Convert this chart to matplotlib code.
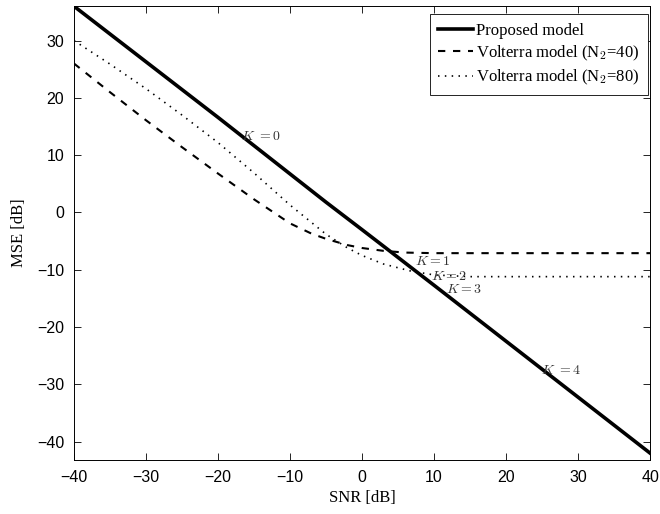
import numpy as np
import matplotlib
matplotlib.use("Agg")
from matplotlib import pyplot as plt

plt.rcParams['mathtext.fontset'] = 'cm'

# SNR points (dB) and MSE values (dB)
snr_prop = [-40, -20, -5, 0, 3, 6.7, 10, 40]
mse_prop = [36, 16.6, 1.8, -3.0, -5.9, -9.5, -12.7, -42]

snr_v40 = [-40, -35, -30, -25, -20, -15, -10, -7, -5, -2, 0, 3, 6, 10, 20, 40]
mse_v40 = [26, 21.0, 16.1, 11.4, 6.8, 2.3, -1.9, -3.7, -4.6, -5.7, -6.2, -6.7, -7.0, -7.1, -7.1, -7.1]

snr_v80 = [-40, -35, -30, -25, -20, -15, -10, -5, -2, 0, 3, 6.7, 10, 15, 20, 40]
mse_v80 = [30, 25.9, 21.6, 17.0, 12.2, 6.9, 1.3, -3.8, -6.2, -7.5, -9.0, -10.2, -10.9, -11.2, -11.2, -11.2]

k_labels = ['$K\\ =0$', '$K=1$', '$K=2$', '$K=3$', '$K\\ =4$']
k_x = [-16.8, 7.3, 9.6, 11.7, 24.8]
k_y = [13.4, -8.5, -11.0, -13.4, -27.5]

xticks = [-40, -30, -20, -10, 0, 10, 20, 30, 40]
yticks = [-40, -30, -20, -10, 0, 10, 20, 30]

fig = plt.figure(figsize=(6.6, 5.14), dpi=100)
ax = fig.add_axes([0.112, 0.105, 0.873, 0.883])

ax.plot(snr_prop, mse_prop, '-', color='black', lw=2.6, label='Proposed model')
ax.plot(snr_v40, mse_v40, '--', color='black', lw=1.5, dashes=(3.5, 3.7),
        label='Volterra model (N$_2$=40)')
ax.plot(snr_v80, mse_v80, ':', color='black', lw=1.2, dashes=(0.9, 3.2),
        label='Volterra model (N$_2$=80)')

for lab, x, y in zip(k_labels, k_x, k_y):
    ax.text(x, y, lab, fontsize=10, color='#333333', ha='left', va='center')

ax.set_xlim(-40, 40)
ax.set_ylim(-43.2, 36)
ax.set_xticks(xticks)
ax.set_yticks(yticks)
ax.tick_params(direction='in', top=True, right=True, length=5, width=0.6,
               labelsize=11.5, pad=7)
for lbl in ax.get_xticklabels() + ax.get_yticklabels():
    lbl.set_family('Liberation Sans')
for s in ax.spines.values():
    s.set_linewidth(0.7)

ax.set_xlabel('SNR [dB]', family='Liberation Serif', fontsize=12, labelpad=4)
ax.set_ylabel('MSE [dB]', family='Liberation Serif', fontsize=12, labelpad=7)

leg = ax.legend(loc='upper right', bbox_to_anchor=(0.9965, 0.982),
                borderaxespad=0,
                prop={'family': 'Liberation Serif', 'size': 12},
                fancybox=False, edgecolor='black', framealpha=1,
                handlelength=2.1, labelspacing=0.3, handletextpad=0.2,
                borderpad=0.5)
leg.get_frame().set_linewidth(0.6)

fig.savefig('out.png', dpi=100)
